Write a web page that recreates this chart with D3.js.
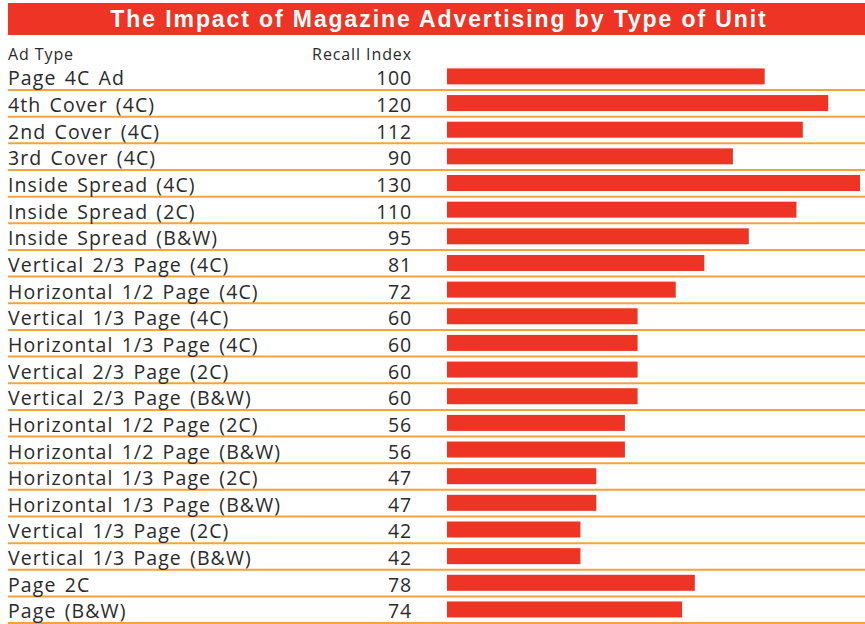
<!DOCTYPE html>
<html>
<head>
<meta charset="utf-8">
<script src="https://cdn.jsdelivr.net/npm/d3@7"></script>
<style>
  body { margin: 0; background: #fff; }
  text { font-family: "Open Sans", sans-serif; }
</style>
</head>
<body>
<svg id="chart" width="865" height="624"></svg>
<script>
const adTypes = [
	"Page 4C Ad", "4th Cover (4C)", "2nd Cover (4C)", "3rd Cover (4C)",
	"Inside Spread (4C)", "Inside Spread (2C)", "Inside Spread (B&W)",
	"Vertical 2/3 Page (4C)", "Horizontal 1/2 Page (4C)", "Vertical 1/3 Page (4C)",
	"Horizontal 1/3 Page (4C)", "Vertical 2/3 Page (2C)", "Vertical 2/3 Page (B&W)",
	"Horizontal 1/2 Page (2C)", "Horizontal 1/2 Page (B&W)", "Horizontal 1/3 Page (2C)",
	"Horizontal 1/3 Page (B&W)", "Vertical 1/3 Page (2C)", "Vertical 1/3 Page (B&W)",
	"Page 2C", "Page (B&W)"
];
const recallIndex = [100, 120, 112, 90, 130, 110, 95, 81, 72, 60, 60, 60, 60, 56, 56, 47, 47, 42, 42, 78, 74];
const title = "The Impact of Magazine Advertising by Type of Unit";
const headers = ["Ad Type", "Recall Index"];

const data = adTypes.map((t, i) => ({ type: t, value: recallIndex[i] }));

const svg = d3.select("svg#chart");
const red = "#ee3424";
const orange = "#f5a33e";
const ink = "#2a2a2a";

// title bar
svg.append("rect")
	.attr("x", 8).attr("y", 3)
	.attr("width", 857).attr("height", 32)
	.attr("fill", red);
svg.append("text")
	.attr("x", 439).attr("y", 27)
	.attr("text-anchor", "middle")
	.attr("fill", "#fff")
	.style("font-family", "'Liberation Sans', Arial, sans-serif")
	.style("font-weight", "bold")
	.style("font-size", "23px")
	.style("letter-spacing", "1.9px")
	.text(title);

// headers
svg.append("text")
	.attr("x", 8).attr("y", 60)
	.attr("fill", ink)
	.style("font-size", "16px")
	.style("letter-spacing", "0.9px")
	.text(headers[0]);
svg.append("text")
	.attr("x", 412).attr("y", 60)
	.attr("text-anchor", "end")
	.attr("fill", ink)
	.style("font-size", "16px")
	.style("letter-spacing", "0.9px")
	.text(headers[1]);

const rowScale = d3.scaleBand()
	.domain(adTypes)
	.range([63.4, 623.1]);

const xScale = d3.scaleLinear([0, 130], [447, 860]);

const rows = svg.selectAll("g.row")
	.data(data)
	.enter()
	.append("g")
	.attr("class", "row")
	.attr("transform", (d) => `translate(0,${rowScale(d.type)})`);

rows.append("line")
	.attr("x1", 8).attr("x2", 865)
	.attr("y1", rowScale.bandwidth()).attr("y2", rowScale.bandwidth())
	.attr("stroke", orange)
	.attr("stroke-width", 2);

rows.append("text")
	.attr("x", 8).attr("y", 22)
	.attr("fill", ink)
	.style("font-size", "19.5px")
	.style("letter-spacing", "1.1px")
	.style("word-spacing", "2px")
	.text((d) => d.type);

rows.append("text")
	.attr("x", 412).attr("y", 22)
	.attr("text-anchor", "end")
	.attr("fill", ink)
	.style("font-size", "19.5px")
	.style("letter-spacing", "0.8px")
	.text((d) => d.value);

rows.append("rect")
	.attr("x", xScale(0))
	.attr("y", 5)
	.attr("width", (d) => xScale(d.value) - xScale(0))
	.attr("height", 16)
	.attr("fill", red);
</script>
</body>
</html>
